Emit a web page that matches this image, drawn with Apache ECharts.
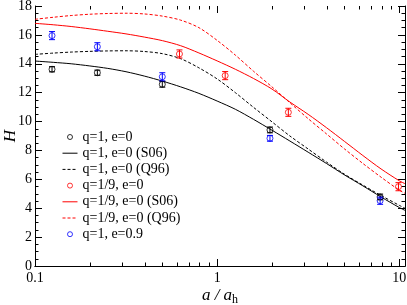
<!DOCTYPE html>
<html><head><meta charset="utf-8">
<script src="https://cdn.jsdelivr.net/npm/echarts@6/dist/echarts.min.js"></script>
<style>html,body{margin:0;padding:0;background:#fff}#c{width:407px;height:305px}</style>
</head><body><div id="c"></div>
<script>
// ---- data ----
const X_MIN = 0.1, X_MAX = 10.75, Y_MIN = 0, Y_MAX = 18;
const xMajorTicks = [0.1, 1, 10];
const xMinorTicks = [0.2,0.3,0.4,0.5,0.6,0.7,0.8,0.9,2,3,4,5,6,7,8,9];

// q=1, e=0 (simulation points)
const q1e0_a   = [0.124, 0.22, 0.5, 1.95, 7.85];
const q1e0_H   = [13.62, 13.38, 12.58, 9.42, 4.78];
const q1e0_err = [0.18, 0.18, 0.2, 0.2, 0.2];
// q=1/9, e=0 (simulation points)
const q9e0_a   = [0.621, 1.107, 2.46, 9.9];
const q9e0_H   = [14.68, 13.18, 10.64, 5.49];
const q9e0_err = [0.28, 0.28, 0.28, 0.28];
// q=1, e=0.9 (simulation points)
const q1e9_a   = [0.124, 0.22, 0.5, 1.95, 7.85];
const q1e9_H   = [15.95, 15.18, 13.1, 8.84, 4.52];
const q1e9_err = [0.28, 0.28, 0.28, 0.2, 0.25];

const curve_a = [0.1, 0.126, 0.158, 0.2, 0.251, 0.316, 0.398, 0.501, 0.631, 0.794, 1.0,
                 1.259, 1.585, 2.0, 2.51, 3.16, 3.98, 5.01, 6.31, 7.94, 10.0, 10.75];
// q=1, e=0 (S06)
const s06q1_H = [14.19, 14.1, 14.0, 13.85, 13.68, 13.45, 13.15, 12.8, 12.4, 11.95, 11.42,
                 10.85, 10.15, 9.4, 8.65, 7.88, 7.1, 6.3, 5.55, 4.78, 4.05, 3.85];
// q=1, e=0 (Q96)
const q96q1_H = [14.65, 14.74, 14.81, 14.86, 14.89, 14.9, 14.85, 14.7, 14.35, 13.72, 12.95,
                 12.0, 10.98, 9.98, 9.0, 8.1, 7.2, 6.35, 5.6, 4.88, 4.2, 4.0];
// q=1/9, e=0 (S06)
const s06q9_H = [16.8, 16.7, 16.58, 16.42, 16.25, 16.07, 15.85, 15.6, 15.25, 14.75, 14.2,
                 13.62, 12.98, 12.25, 11.35, 10.5, 9.58, 8.62, 7.65, 6.72, 5.9, 5.7];
// q=1/9, e=0 (Q96)
const q96q9_H = [17.08, 17.22, 17.34, 17.43, 17.48, 17.5, 17.45, 17.3, 17.02, 16.5, 15.62,
                 14.6, 13.48, 12.4, 11.3, 10.2, 9.15, 8.1, 7.1, 6.15, 5.25, 5.03];

const names = ['q=1, e=0', 'q=1, e=0 (S06)', 'q=1, e=0 (Q96)', 'q=1/9, e=0', 'q=1/9, e=0 (S06)', 'q=1/9, e=0 (Q96)', 'q=1, e=0.9'];

// ---- build ----
const FONT = "'Liberation Serif', 'Times New Roman', serif";
const zip = (a, b) => a.map((v, i) => [v, b[i]]);
const zip3 = (a, b, c) => a.map((v, i) => [v, b[i], c[i]]);

function errSeries(data, color) {
  return {
    type: 'custom', data: data, z: 5, silent: true,
    encode: {x: 0, y: 1},
    renderItem: function (params, api) {
      const a = api.value(0), h = api.value(1), e = api.value(2);
      const p1 = api.coord([a, h - e]), p2 = api.coord([a, h + e]);
      const w = 3;
      const st = {stroke: color, lineWidth: 1, fill: null};
      return {type: 'group', children: [
        {type: 'line', shape: {x1: p1[0], y1: p1[1], x2: p2[0], y2: p2[1]}, style: st},
        {type: 'line', shape: {x1: p1[0] - w, y1: p1[1], x2: p1[0] + w, y2: p1[1]}, style: st},
        {type: 'line', shape: {x1: p2[0] - w, y1: p2[1], x2: p2[0] + w, y2: p2[1]}, style: st}
      ]};
    }
  };
}
function pointSeries(name, data, color) {
  return {
    name: name, type: 'scatter', data: data, symbol: 'circle', symbolSize: 6, z: 4,
    itemStyle: {color: 'rgba(255,255,255,0)', borderColor: color, borderWidth: 1}
  };
}
function lineSeries(name, data, color, dashed) {
  return {
    name: name, type: 'line', data: data, symbol: 'none', smooth: 0.3, z: 3,
    lineStyle: {color: color, width: 1, type: dashed ? [3, 2] : 'solid'},
    itemStyle: {color: color}
  };
}

const tickData = xMajorTicks.map(v => [v, 1]).concat(xMinorTicks.map(v => [v, 0]));
const tickSeries = {
  type: 'custom', data: tickData, silent: true, z: 10, clip: false,
  encode: {x: 0},
  renderItem: function (params, api) {
    const v = api.value(0), major = api.value(1);
    const len = major ? 7 : 3.5;
    const pb = api.coord([v, Y_MIN]), pt = api.coord([v, Y_MAX]);
    const x = Math.round(pb[0]) + 0.5;
    const st = {stroke: '#000', lineWidth: 1};
    return {type: 'group', children: [
      {type: 'line', shape: {x1: x, y1: pb[1], x2: x, y2: pb[1] - len}, style: st},
      {type: 'line', shape: {x1: x, y1: pt[1], x2: x, y2: pt[1] + len}, style: st}
    ]};
  }
};

const yAxisCommon = {
  type: 'value', min: Y_MIN, max: Y_MAX, interval: 2,
  axisLine: {show: true, lineStyle: {color: '#000', width: 1}},
  axisTick: {show: true, inside: true, length: 7, lineStyle: {color: '#000'}},
  minorTick: {show: true, splitNumber: 4, length: 3.5, lineStyle: {color: '#000'}},
  splitLine: {show: false}
};

const legendData = names.map((n, i) => {
  const isLine = (i === 1 || i === 2 || i === 4 || i === 5);
  return isLine ? {name: n, itemStyle: {opacity: 0}} : {name: n, itemStyle: {borderWidth: 1}};
});

const option = {
  animation: false,
  backgroundColor: '#fff',
  grid: {left: 35, right: 2, top: 6, bottom: 39, containLabel: false, outerBoundsMode: 'none'},
  legend: {
    orient: 'vertical', left: 57, top: 125, itemWidth: 15, itemHeight: 5, itemGap: 2.2,
    data: legendData,
    lineStyle: {width: 1},
    textStyle: {fontFamily: FONT, fontSize: 14, color: '#000', lineHeight: 14}
  },
  xAxis: [{
    type: 'log', logBase: 10, min: X_MIN, max: X_MAX, position: 'bottom',
    axisLine: {show: true, lineStyle: {color: '#000', width: 1}},
    axisTick: {show: false},
    splitLine: {show: false},
    axisLabel: {
      fontFamily: FONT, fontSize: 14, color: '#000', margin: 5,
      formatter: function (v) {
        for (const t of xMajorTicks) { if (Math.abs(v - t) < t * 1e-6) return String(t); }
        return '';
      }
    },
    name: '{i|a / a}{s|h}', nameLocation: 'middle', nameGap: 19, nameMoveOverlap: false,
    nameTextStyle: {rich: {
      i: {fontFamily: FONT, fontStyle: 'italic', fontSize: 17, color: '#000'},
      s: {fontFamily: FONT, fontSize: 12, color: '#000', padding: [9, 0, 0, 0]}
    }}
  }, {
    type: 'log', logBase: 10, min: X_MIN, max: X_MAX, position: 'top',
    axisLine: {show: true, lineStyle: {color: '#000', width: 1}},
    axisTick: {show: false}, axisLabel: {show: false}, splitLine: {show: false}
  }],
  yAxis: [Object.assign({}, yAxisCommon, {
    position: 'left',
    axisLabel: {fontFamily: FONT, fontSize: 14, color: '#000', margin: 3},
    name: 'H', nameLocation: 'middle', nameGap: 16, nameMoveOverlap: false,
    nameTextStyle: {fontFamily: FONT, fontStyle: 'italic', fontSize: 17, color: '#000'}
  }), Object.assign({}, yAxisCommon, {
    position: 'right', axisLabel: {show: false}
  })],
  series: [
    pointSeries(names[0], zip(q1e0_a, q1e0_H), '#000'),
    lineSeries(names[1], zip(curve_a, s06q1_H), '#000', false),
    lineSeries(names[2], zip(curve_a, q96q1_H), '#000', true),
    pointSeries(names[3], zip(q9e0_a, q9e0_H), '#ff0000'),
    lineSeries(names[4], zip(curve_a, s06q9_H), '#ff0000', false),
    lineSeries(names[5], zip(curve_a, q96q9_H), '#ff0000', true),
    pointSeries(names[6], zip(q1e9_a, q1e9_H), '#0000ff'),
    errSeries(zip3(q1e0_a, q1e0_H, q1e0_err), '#000'),
    errSeries(zip3(q9e0_a, q9e0_H, q9e0_err), '#ff0000'),
    errSeries(zip3(q1e9_a, q1e9_H, q1e9_err), '#0000ff'),
    tickSeries
  ]
};
const chart = echarts.init(document.getElementById('c'), null, {renderer: 'canvas'});
chart.setOption(option);
</script>
</body></html>
